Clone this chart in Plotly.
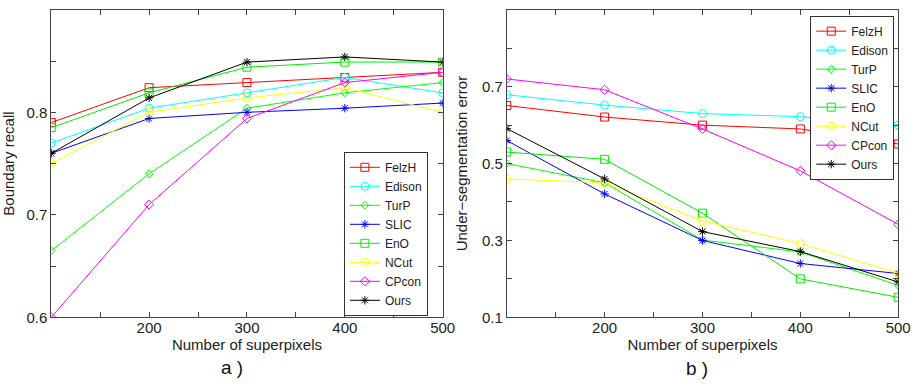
import plotly.graph_objects as go

x_vals = [100, 200, 300, 400, 500]
methods = ["FelzH", "Edison", "TurP", "SLIC", "EnO", "NCut", "CPcon", "Ours"]

recall_felzh = [0.790, 0.824, 0.829, 0.834, 0.839]
recall_edison = [0.770, 0.804, 0.819, 0.834, 0.819]
recall_turp = [0.665, 0.740, 0.804, 0.819, 0.829]
recall_slic = [0.760, 0.794, 0.800, 0.804, 0.809]
recall_eno = [0.785, 0.819, 0.844, 0.849, 0.849]
recall_ncut = [0.750, 0.800, 0.814, 0.824, 0.800]
recall_cpcon = [0.600, 0.710, 0.794, 0.829, 0.839]
recall_ours = [0.760, 0.814, 0.849, 0.854, 0.849]

use_felzh = [0.651, 0.621, 0.600, 0.590, 0.551]
use_edison = [0.679, 0.652, 0.630, 0.622, 0.600]
use_turp = [0.500, 0.450, 0.301, 0.270, 0.183]
use_slic = [0.560, 0.421, 0.300, 0.240, 0.214]
use_eno = [0.530, 0.511, 0.371, 0.200, 0.152]
use_ncut = [0.460, 0.450, 0.351, 0.292, 0.215]
use_cpcon = [0.720, 0.692, 0.590, 0.481, 0.342]
use_ours = [0.591, 0.460, 0.323, 0.271, 0.192]

recall = [recall_felzh, recall_edison, recall_turp, recall_slic,
          recall_eno, recall_ncut, recall_cpcon, recall_ours]
use = [use_felzh, use_edison, use_turp, use_slic,
       use_eno, use_ncut, use_cpcon, use_ours]

colors = ["#FF0000", "#00FFFF", "#00FF00", "#0000FF",
          "#00EE00", "#FFFF00", "#FF00FF", "#000000"]
symbols = ["square-open", "circle-open", "diamond-open", "asterisk-open",
           "square-open", "circle-open", "diamond-open", "asterisk-open"]
sizes = [8, 8, 6, 7, 8, 8, 7, 7]

x_tickvals = [100, 150, 200, 250, 300, 350, 400, 450, 500]
x_ticktext = ["", "", "200", "", "300", "", "400", "", "500"]
left_tickvals = [0.6, 0.65, 0.7, 0.75, 0.8, 0.85, 0.9]
left_ticktext = ["0.6", "", "0.7", "", "0.8", "", ""]
right_tickvals = [0.1, 0.2, 0.3, 0.4, 0.5, 0.6, 0.7, 0.8, 0.9]
right_ticktext = ["0.1", "", "0.3", "", "0.5", "", "0.7", "", ""]

FONT = "Liberation Sans, Arial, sans-serif"
AXC = "#444444"
TXT = "#222222"
W, H = 923, 388

fig = go.Figure()
for i, m in enumerate(methods):
    fig.add_trace(go.Scatter(
        x=x_vals, y=recall[i], name=m, mode="lines+markers",
        line=dict(color=colors[i], width=1),
        marker=dict(symbol=symbols[i], size=sizes[i], color=colors[i],
                    line=dict(color=colors[i], width=1)),
        xaxis="x", yaxis="y", legend="legend"))
for i, m in enumerate(methods):
    fig.add_trace(go.Scatter(
        x=x_vals, y=use[i], name=m, mode="lines+markers",
        line=dict(color=colors[i], width=1),
        marker=dict(symbol=symbols[i], size=sizes[i], color=colors[i],
                    line=dict(color=colors[i], width=1)),
        xaxis="x2", yaxis="y2", legend="legend2"))

axis_common = dict(showgrid=False, zeroline=False, showline=True, linecolor=AXC,
                   linewidth=1, mirror="ticks", ticks="inside", ticklen=5,
                   tickcolor=AXC, tickfont=dict(family=FONT, size=15, color=TXT))
xfont = dict(family=FONT, size=15, color=TXT)

fig.update_layout(
    width=W - 16, height=H - 16,
    margin=dict(l=0, r=0, t=0, b=0),
    paper_bgcolor="white", plot_bgcolor="white",
    font=dict(family=FONT, size=13, color=TXT),
    hovermode=False,
    xaxis=dict(domain=[52 / W, 449 / W], range=[100, 500], tickvals=x_tickvals,
               ticktext=x_ticktext, anchor="y", ticklabelstandoff=-3,
               title=dict(text="Number of superpixels", standoff=0, font=xfont),
               **axis_common),
    yaxis=dict(domain=[1 - 324 / H, 1 - 10 / H], range=[0.6, 0.9], tickvals=left_tickvals,
               ticktext=left_ticktext, anchor="x",
               title=dict(text="Boundary recall", standoff=10, font=xfont),
               **axis_common),
    xaxis2=dict(domain=[514 / W, 911 / W], range=[100, 500], tickvals=x_tickvals,
                ticktext=x_ticktext, anchor="y2", ticklabelstandoff=-3,
                title=dict(text="Number of superpixels", standoff=0, font=xfont),
                **axis_common),
    yaxis2=dict(domain=[1 - 324 / H, 1 - 10 / H], range=[0.1, 0.9], tickvals=right_tickvals,
                ticktext=right_ticktext, anchor="x2",
                title=dict(text="Under\u2212segmentation error", standoff=10, font=xfont),
                **axis_common),
    legend=dict(x=434 / W, y=1 - 155 / H, xanchor="right", yanchor="top",
                bgcolor="white", bordercolor="#333333", borderwidth=1,
                font=dict(family=FONT, size=12, color=TXT),
                tracegroupgap=0, itemwidth=30),
    legend2=dict(x=907 / W, y=1 - 16 / H, xanchor="right", yanchor="top",
                 bgcolor="white", bordercolor="#333333", borderwidth=1,
                 font=dict(family=FONT, size=12, color=TXT),
                 tracegroupgap=0, itemwidth=30),
    annotations=[
        dict(text="a )", x=235 / W, y=1 - 375 / H, xref="paper", yref="paper",
             xanchor="center", yanchor="middle", showarrow=False,
             font=dict(family=FONT, size=19, color="#111111")),
        dict(text="b )", x=707 / W, y=1 - 376 / H, xref="paper", yref="paper",
             xanchor="center", yanchor="middle", showarrow=False,
             font=dict(family=FONT, size=19, color="#111111")),
    ],
)

fig.write_html(
    "out.html",
    config={"displayModeBar": False, "responsive": False},
    post_script=(
        "document.documentElement.style.margin='0';"
        "document.body.style.margin='0';"
        "document.documentElement.style.overflow='hidden';"
        "document.body.style.overflow='hidden';"
        "var gd=document.getElementById('{plot_id}');"
        "gd.style.width='923px';gd.style.height='388px';"
        "Plotly.relayout(gd,{width:923,height:388});"
    ),
)
